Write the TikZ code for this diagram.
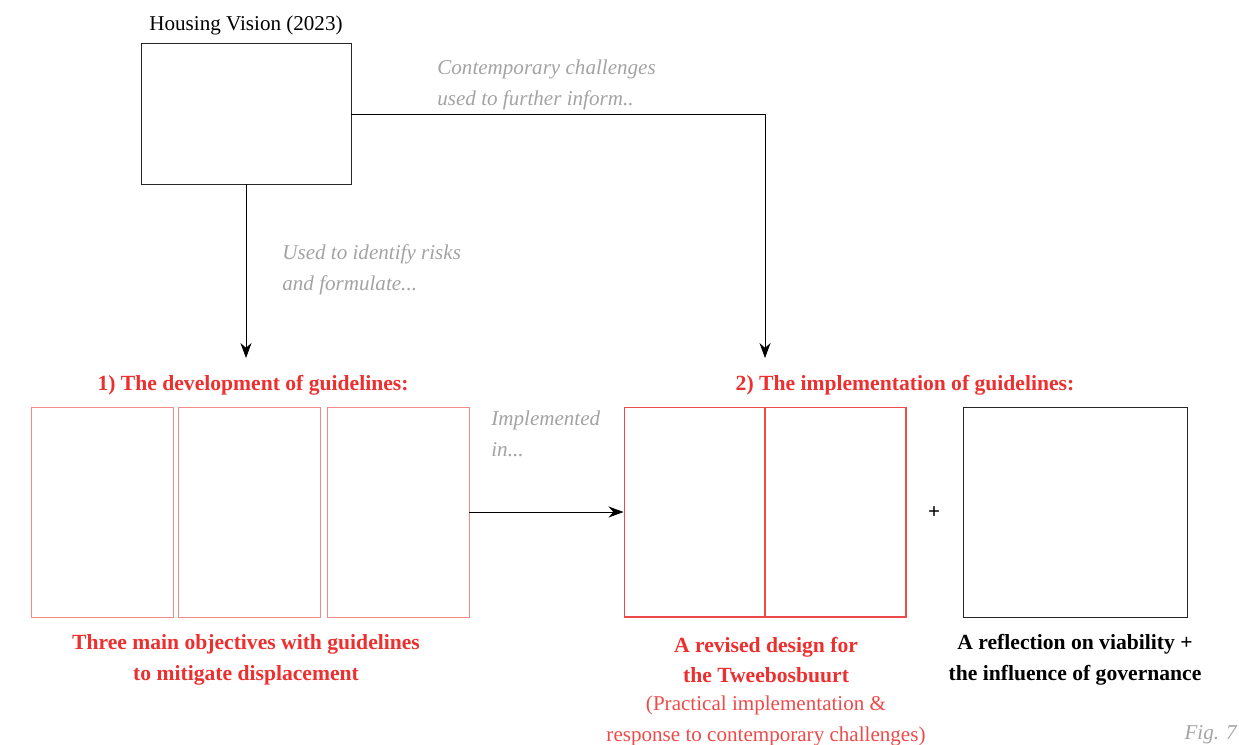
\documentclass[tikz,border=0pt]{standalone}
\usepackage{fontspec}
\setmainfont{Liberation Serif}
\usetikzlibrary{arrows.meta,positioning}

\definecolor{titleRed}{HTML}{EC2F2F}
\definecolor{softRed}{HTML}{F28A8A}
\definecolor{lineRed}{HTML}{EE4A4A}
\definecolor{noteGray}{HTML}{A3A3A3}

\begin{document}
\begin{tikzpicture}[
        x=0.02cm, y=-0.02cm,
        font=\fontsize{12}{17.6}\selectfont,
        blackBox/.style={rectangle, draw=black!85, inner sep=0pt},
        objBox/.style={rectangle, draw=softRed, line width=0.5pt, inner sep=0pt, minimum width=2.84cm, minimum height=4.2cm},
        headNode/.style={text=titleRed, font=\fontsize{12.3}{17.6}\selectfont\bfseries, inner sep=0pt},
        captionNode/.style={align=center, font=\fontsize{12.3}{17.6}\selectfont\bfseries, inner sep=0pt},
        noteNode/.style={text=noteGray, font=\fontsize{12}{17.6}\selectfont\itshape, align=left, anchor=west, inner sep=0pt},
        arrowLine/.style={-{Stealth[length=3mm, width=2.2mm]}, draw=black}
    ]
        \useasboundingbox (0,0) rectangle (1239,744);

        % Housing vision
        \node[blackBox, minimum width=4.2cm, minimum height=2.82cm] (vision) at (246,113.5) {};
        \node[above=0.14cm of vision, inner sep=0pt] (visionLabel) {Housing Vision (2023)};

        % Guideline objectives
        \node[objBox] (objA) at (102,512) {};
        \node[objBox] (objB) at (249,512) {};
        \node[objBox] (objC) at (398,512) {};
        \node[headNode] (devHead) at (253,385) {1) The development of guidelines:};

        % Revised design, split in two
        \node[rectangle, draw=lineRed, line width=0.6pt, inner sep=0pt, minimum width=5.64cm, minimum height=4.2cm] (design) at (765,512) {};
        \draw[draw=lineRed, line width=0.8pt] (design.north) -- (design.south);
        \node[headNode] (impHead) at (905,385) {2) The implementation of guidelines:};

        % Reflection
        \node (plus) at (934,513) {\textbf{+}};
        \node[blackBox, minimum width=4.48cm, minimum height=4.2cm] (reflection) at (1075,512) {};

        % Captions
        \node[captionNode, text=titleRed] (objCaption) at (246,660) {Three main objectives with guidelines\\to mitigate displacement};
        \node[captionNode, text=titleRed] (designCaption) at (766,660) {A revised design for\\the Tweebosbuurt};
        \node[align=center, text=lineRed, inner sep=0pt] (designNote) at (766,720.5) {(Practical implementation \&\\response to contemporary challenges)};
        \node[captionNode] (reflectionCaption) at (1075,660) {A reflection on viability +\\the influence of governance};

        % Notes on the connectors
        \node[noteNode] (noteRisks) at (282,270) {Used to identify risks\\and formulate...};
        \node[noteNode] (noteChallenges) at (437,84.5) {Contemporary challenges\\used to further inform..};
        \node[noteNode] (noteImpl) at (491,433.5) {Implemented\\in...};
        \node[noteNode, anchor=east] (figLabel) at (1237,735) {Fig. 7};

        % Edges
        \coordinate (devIn) at (246,358);
        \coordinate (impIn) at (765,358);
        \draw[arrowLine] (vision.south) -- (devIn);
        \draw[arrowLine] (vision.east |- 0,114) -| (impIn);
        \draw[arrowLine] (objC.east) -- (design.west);
    \end{tikzpicture}
\end{document}
